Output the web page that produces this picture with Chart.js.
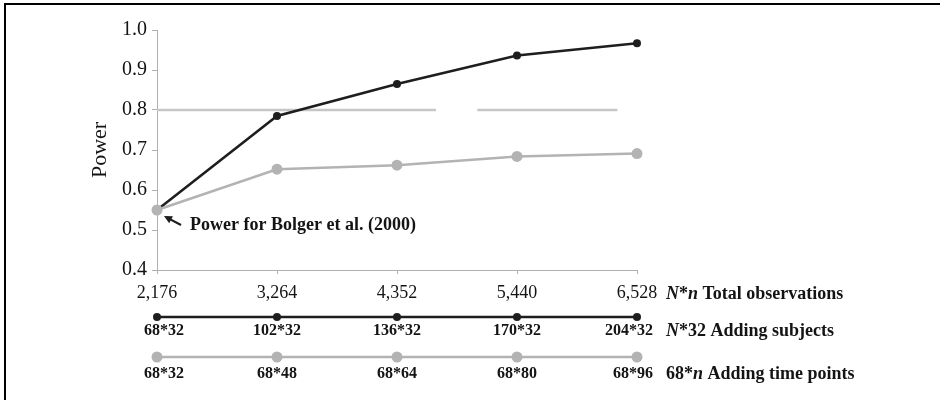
<!DOCTYPE html>
<html>
<head>
<meta charset="utf-8">
<script src="https://cdn.jsdelivr.net/npm/chart.js@4.4.1/dist/chart.umd.min.js"></script>
<style>
  html, body { margin: 0; padding: 0; background: #fff; }
  canvas { display: block; }
</style>
</head>
<body>
<canvas id="powerChart" width="940" height="400"></canvas>
<script>
// x categories: total observations N*n
const totals = [2176, 3264, 4352, 5440, 6528];
// power when adding subjects (N*32)
const powerSubjects = [0.55, 0.785, 0.865, 0.936, 0.967];
// power when adding time points (68*n)
const powerTimePoints = [0.55, 0.652, 0.662, 0.684, 0.691];
const yTicks = [0.4, 0.5, 0.6, 0.7, 0.8, 0.9, 1.0];
const subjectLabels = ['68*32', '102*32', '136*32', '170*32', '204*32'];
const timeLabels = ['68*32', '68*48', '68*64', '68*80', '68*96'];
// 0.8 reference line, drawn in two pieces (it is broken near 4,900 in the original)
const refLevel = 0.8;
const refSegments = [[2176, 4705], [5080, 6350]];
const annotationText = 'Power for Bolger et al. (2000)';

const SERIF = '"Liberation Serif", "Times New Roman", serif';
const BLACK = '#1e1e1e'; const GREY = '#b3b3b3'; const INK = '#141414';

const refData = [];
refSegments.forEach((seg, i) => {
  if (i > 0) refData.push({ x: seg[0] - 1, y: null });
  refData.push({ x: seg[0], y: refLevel }, { x: seg[1], y: refLevel });
});

function drawParts(ctx, parts, x, y, size) {
  ctx.textAlign = 'left'; ctx.textBaseline = 'middle';
  parts.forEach(p => {
    ctx.font = (p.i ? 'italic ' : '') + 'bold ' + size + 'px ' + SERIF;
    ctx.fillText(p.t, x, y); x += ctx.measureText(p.t).width;
  });
}

const extras = {
  id: 'extras',
  beforeDraw(chart) {
    const c = chart.ctx; c.save(); c.fillStyle = '#fff'; c.fillRect(0, 0, chart.width, chart.height); c.restore();
  },
  afterDraw(chart) {
    const ctx = chart.ctx; const x = chart.scales.x; const y = chart.scales.y;
    const bottom = chart.chartArea.bottom; const rightX = x.right + 29;
    ctx.save();

    // frame (only top and left edges show)
    ctx.fillStyle = '#000'; ctx.fillRect(4, 3, chart.width, 2); ctx.fillRect(4, 3, 2, chart.height);

    // y axis title
    ctx.save(); ctx.translate(100, (chart.chartArea.top + bottom) / 2); ctx.rotate(-Math.PI / 2);
    ctx.font = '22px ' + SERIF; ctx.fillStyle = INK; ctx.textAlign = 'center'; ctx.textBaseline = 'middle';
    ctx.fillText('Power', 0, 0); ctx.restore();

    // annotation arrow + text
    const px = x.getPixelForValue(totals[0]); const py = y.getPixelForValue(powerSubjects[0]);
    const tip = [px + 7, py + 6]; const tail = [px + 24, py + 15];
    const ang = Math.atan2(tip[1] - tail[1], tip[0] - tail[0]);
    ctx.strokeStyle = BLACK; ctx.fillStyle = BLACK; ctx.lineWidth = 2.2;
    ctx.beginPath(); ctx.moveTo(tail[0], tail[1]); ctx.lineTo(tip[0] - 4 * Math.cos(ang), tip[1] - 4 * Math.sin(ang)); ctx.stroke();
    ctx.beginPath(); ctx.moveTo(tip[0], tip[1]);
    ctx.lineTo(tip[0] - 8 * Math.cos(ang) + 4 * Math.sin(ang), tip[1] - 8 * Math.sin(ang) - 4 * Math.cos(ang));
    ctx.lineTo(tip[0] - 8 * Math.cos(ang) - 4 * Math.sin(ang), tip[1] - 8 * Math.sin(ang) + 4 * Math.cos(ang));
    ctx.closePath(); ctx.fill();
    ctx.fillStyle = INK; ctx.font = 'bold 18px ' + SERIF; ctx.textAlign = 'left'; ctx.textBaseline = 'middle';
    ctx.fillText(annotationText, px + 33, py + 15);

    // right-hand labels
    drawParts(ctx, [{ t: 'N', i: true }, { t: '*' }, { t: 'n', i: true }, { t: ' Total observations' }], rightX, bottom + 24, 18);

    // legend rows
    const rows = [
      { color: BLACK, r: 4, lineY: bottom + 47, labels: subjectLabels, textY: bottom + 61,
        parts: [{ t: 'N', i: true }, { t: '*32 Adding subjects' }] },
      { color: GREY, r: 5.5, lineY: bottom + 87, labels: timeLabels, textY: bottom + 104,
        parts: [{ t: '68*' }, { t: 'n', i: true }, { t: ' Adding time points' }] }
    ];
    rows.forEach(row => {
      const xs = totals.map(v => x.getPixelForValue(v));
      ctx.strokeStyle = row.color; ctx.fillStyle = row.color; ctx.lineWidth = 2.5;
      ctx.beginPath(); ctx.moveTo(xs[0], row.lineY); ctx.lineTo(xs[xs.length - 1], row.lineY); ctx.stroke();
      xs.forEach(cx => { ctx.beginPath(); ctx.arc(cx, row.lineY, row.r, 0, Math.PI * 2); ctx.fill(); });
      ctx.fillStyle = INK; ctx.font = 'bold 16px ' + SERIF; ctx.textBaseline = 'middle';
      row.labels.forEach((l, i) => {
        const last = row.labels.length - 1;
        if (i === 0) { ctx.textAlign = 'left'; ctx.fillText(l, xs[i] - 13, row.textY); }
        else if (i === last) { ctx.textAlign = 'right'; ctx.fillText(l, xs[i] + 16, row.textY); }
        else { ctx.textAlign = 'center'; ctx.fillText(l, xs[i], row.textY); }
      });
      drawParts(ctx, row.parts, rightX, row.textY, 18);
    });
    ctx.restore();
  }
};

new Chart(document.getElementById('powerChart').getContext('2d'), {
  type: 'line',
  data: {
    datasets: [
      { label: '68*n Adding time points', data: totals.map((t, i) => ({ x: t, y: powerTimePoints[i] })),
        borderColor: GREY, backgroundColor: GREY, pointBorderWidth: 0, borderWidth: 2.5, pointRadius: 5.5, tension: 0, order: 0, clip: false },
      { label: 'N*32 Adding subjects', data: totals.map((t, i) => ({ x: t, y: powerSubjects[i] })),
        borderColor: BLACK, backgroundColor: BLACK, pointBorderWidth: 0, borderWidth: 2.5, pointRadius: 4, tension: 0, order: 1, clip: false },
      { label: '0.8', data: refData, borderColor: '#c6c6c6', borderWidth: 2.5, pointRadius: 0, spanGaps: false, order: 2 }
    ]
  },
  options: {
    responsive: false, animation: false,
    layout: { padding: { top: 30, right: 303, bottom: 0, left: 0 } },
    plugins: { legend: { display: false }, tooltip: { enabled: false } },
    scales: {
      x: {
        type: 'linear', min: totals[0], max: totals[totals.length - 1],
        afterBuildTicks: s => { s.ticks = totals.map(v => ({ value: v })); },
        afterFit: s => { s.height = 130; },
        ticks: { callback: v => v.toLocaleString('en-US'), font: { family: SERIF, size: 18 }, color: INK, padding: 8, maxRotation: 0 },
        grid: { drawOnChartArea: false, tickLength: 4, color: '#b0b0b0' },
        border: { color: '#b0b0b0' }
      },
      y: {
        min: yTicks[0], max: yTicks[yTicks.length - 1],
        afterBuildTicks: s => { s.ticks = yTicks.map(v => ({ value: v })); },
        afterFit: s => { s.width = 157; },
        ticks: { callback: v => v.toFixed(1), font: { family: SERIF, size: 20 }, color: INK, padding: 5 },
        grid: { drawOnChartArea: false, tickLength: 5, color: '#b0b0b0' },
        border: { color: '#b0b0b0' }
      }
    }
  },
  plugins: [extras]
});
</script>
</body>
</html>
